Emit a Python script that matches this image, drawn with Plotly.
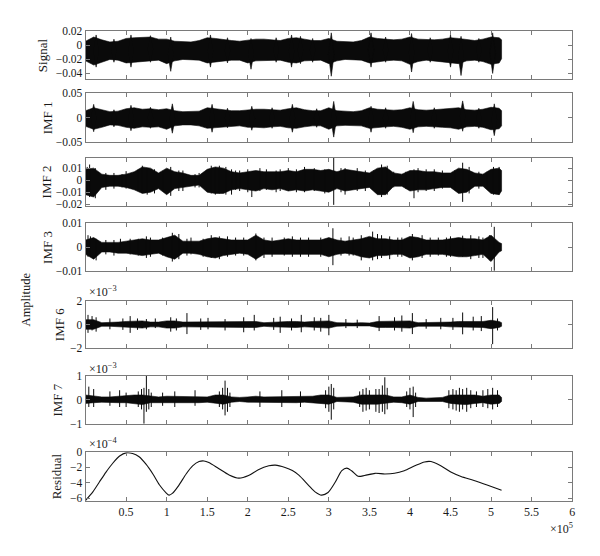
import plotly.graph_objects as go

W, H = 600, 556

# ---------------- data ----------------
# envelope sample positions, in units of 1e4 samples
GRID = [0, 1, 2, 3, 4, 5, 6, 7, 8, 9, 10, 11, 12, 13, 14, 15, 16, 17, 18, 19,
        20, 21, 22, 23, 24, 25, 26, 27, 28, 29, 30, 31, 32, 33, 34, 35, 36, 37, 38, 39,
        40, 41, 42, 43, 44, 45, 46, 47, 48, 49, 50, 51, 51.3]

# Signal envelope (x1e-3)
SIG_UP = [6, 12, 8, 5, 6, 10, 11, 11, 12, 9, 9, 6, 5, 5, 7, 11, 10, 8, 7, 6,
          8, 9, 9, 8, 7, 10, 11, 9, 7, 7, 10, 6, 5, 5, 7, 12, 10, 9, 8, 9,
          12, 9, 8, 8, 9, 11, 10, 8, 7, 9, 12, 11, 8]
SIG_LO = [-22, -28, -24, -20, -21, -25, -24, -22, -22, -21, -26, -22, -20, -20, -21, -25, -23, -22, -21, -21,
          -25, -22, -22, -21, -21, -24, -25, -22, -21, -21, -26, -22, -20, -20, -21, -25, -23, -22, -21, -22,
          -27, -23, -21, -22, -23, -25, -26, -22, -21, -23, -27, -25, -19]
SIG_SPK_X = [1.3, 5.6, 10.5, 15.4, 20.4, 25.4, 26.5, 30.3, 35.2, 40.2, 45.0, 46.3, 50.2,
             3.5, 8.0, 17.5, 23.5, 28.0, 37.0, 42.5, 48.5]
SIG_SPK_T = [15, 15, 12, 15, 10, 15, 13, 18, 18, 17, 15, 13, 18,
             9, 14, 11, 11, 10, 12, 11, 10]
SIG_SPK_B = [-31, -31, -37, -31, -34, -31, -26, -44, -31, -38, -31, -43, -40,
             -24, -24, -25, -24, -24, -24, -24, -24]

# IMF 1 envelope (x1e-3)
IMF1_UP = [14, 20, 16, 12, 13, 18, 20, 17, 18, 16, 18, 14, 12, 12, 13, 20, 18, 15, 14, 14,
           16, 17, 17, 16, 15, 18, 20, 16, 14, 14, 20, 14, 13, 12, 14, 20, 17, 16, 15, 16,
           20, 16, 15, 16, 17, 18, 20, 16, 15, 17, 21, 19, 14]
IMF1_LO = [-18, -24, -20, -15, -16, -20, -22, -19, -20, -19, -24, -17, -15, -15, -17, -22, -21, -19, -18, -17,
           -20, -20, -21, -19, -18, -21, -22, -19, -17, -17, -24, -17, -16, -16, -17, -22, -20, -19, -18, -20,
           -24, -19, -18, -19, -20, -21, -24, -19, -18, -20, -25, -23, -17]
IMF1_SPK_X = [1.0, 5.6, 10.7, 15.6, 20.5, 25.5, 30.6, 35.2, 40.4, 46.5, 50.4,
              3.5, 8.0, 17.5, 23.0, 28.5, 37.0, 43.0, 48.5]
IMF1_SPK_T = [27, 25, 28, 27, 23, 27, 33, 23, 33, 34, 28,
              16, 21, 19, 20, 18, 20, 20, 19]
IMF1_SPK_B = [-29, -27, -32, -30, -26, -30, -40, -30, -31, -28, -37,
              -19, -22, -21, -22, -20, -22, -22, -22]

# IMF 2 envelope (x1e-3)
IMF2_UP = [9, 10, 5, 4, 4, 5, 7, 11, 10, 6, 10, 7, 6, 4, 4, 9, 11, 10, 7, 6,
           7, 8, 7, 7, 7, 8, 7, 9, 9, 8, 9, 7, 9, 8, 7, 6, 10, 11, 6, 5,
           8, 8, 7, 7, 6, 6, 10, 9, 6, 5, 9, 10, 8]
IMF2_LO = [-12, -14, -6, -5, -5, -6, -8, -11, -10, -7, -12, -7, -6, -5, -4, -10, -11, -11, -8, -7,
           -8, -9, -7, -8, -7, -9, -8, -9, -8, -9, -10, -7, -9, -8, -7, -6, -12, -12, -5, -5,
           -9, -8, -8, -7, -6, -6, -11, -10, -5, -5, -11, -12, -9]
IMF2_SPK_X = [0.5, 1.2, 7.0, 10.5, 16.5, 18.0, 20.5, 30.6, 32.0, 36.5, 40.5, 46.5, 50.3,
              3.5, 5.0, 8.5, 12.0, 14.0, 17.3, 19.0, 22.3, 24.0, 26.0, 28.2, 33.5, 38.0, 42.0, 44.0, 48.5,
              0.2, 2.5, 4.5, 6.5, 7.6, 9.5, 11.5, 13.5, 15.5, 16.0, 18.5, 20.0, 21.5, 23.5, 25.0, 27.0,
              29.5, 31.5, 34.5, 35.5, 37.2, 39.5, 41.0, 43.0, 45.5, 47.3, 49.5, 51.0]
IMF2_SPK_T = [13, 10, 12, 11, 12, 9, 7, 19, 10, 13, 9, 14.5, 11,
              6, 7.5, 9, 8, 6, 11, 8, 9, 9, 9, 10, 10, 7, 9, 8, 7,
              11, 6, 5, 9, 10, 7, 8, 5, 12, 10, 8, 9, 10, 8, 10, 11,
              9, 10, 8, 8, 12, 7, 10, 9, 8, 11, 7, 11]
IMF2_SPK_B = [-14, -15, -10, -13, -11, -12, -14, -20.5, -12, -14, -15, -18, -12,
              -7, -7, -11, -9, -6, -12, -9, -8, -9, -10, -9, -9, -6, -9, -7, -7,
              -10, -8, -6, -9, -12, -8, -9, -6, -11, -12, -8, -10, -9, -10, -9, -10,
              -11, -10, -9, -7, -12, -7, -10, -9, -8, -11, -7, -12]

# IMF 3 envelope (x1e-3)
IMF3_UP = [3, 4, 2, 2, 2, 2.5, 3, 3.5, 3, 3, 4, 5, 2.5, 2.5, 2.5, 3.5, 4, 3.5, 3, 3,
           3, 5, 3, 2.5, 3, 3.5, 3, 3, 3, 3, 4, 3, 2.5, 3, 3.5, 4.5, 3.5, 3.5, 3, 3,
           4.5, 4, 3, 3, 3, 3.5, 4, 3.5, 3.5, 3, 5, 2, 1.5]
IMF3_LO = [-3, -5, -2, -2, -2.5, -2.5, -3, -3.5, -3, -2.5, -4, -5, -2.5, -2.5, -3, -4, -4.5, -3.5, -3, -2.5,
           -3, -5, -3, -3, -3, -3, -3, -3, -3, -3, -4, -3, -2.5, -3, -4, -4.5, -3.5, -3.5, -3, -3,
           -4.5, -4, -3, -3, -3, -3.5, -4, -4, -3.5, -3, -6, -2, -1.5]
IMF3_SPK_X = [0.6, 1.3, 4.3, 6.5, 10.7, 13.0, 16.5, 21.0, 30.5, 32.5, 35.4, 36.5, 40.3, 45.0, 46.5, 50.4,
              2.5, 8.0, 11.5, 14.5, 18.5, 23.0, 25.5, 27.5, 34.0, 37.5, 39.0, 42.5, 47.5, 49.0,
              0.3, 3.5, 5.5, 7.5, 9.5, 12.5, 15.5, 17.5, 19.5, 22.0, 24.5, 26.5, 29.0, 31.5, 33.0,
              36.0, 38.5, 41.5, 43.5, 44.5, 48.5, 49.8]
IMF3_SPK_T = [4.5, 3.5, 3.5, 3.5, 6, 4, 4.5, 5.7, 7.9, 4.5, 6.5, 5, 5.5, 4.5, 4.8, 8.5,
              3, 4, 5.5, 3.5, 4, 4, 4.5, 4, 5, 4.5, 4, 4, 5, 4,
              5, 3, 3.5, 4.5, 4, 3.5, 5, 4.5, 4, 4, 4, 4, 4, 4, 4,
              5.5, 4, 5, 4, 4, 4.5, 5]
IMF3_SPK_B = [-4, -5.5, -2, -3.5, -6, -3, -5, -5.5, -7.5, -3.5, -5.5, -4.5, -5.5, -4, -4, -9.8,
              -3, -4, -5, -4, -3.5, -4, -4, -4, -5.5, -5, -4, -4, -5, -4.5,
              -4, -3.5, -3, -4.5, -3.5, -3.5, -4.5, -4, -3.5, -4.5, -3.5, -4, -4, -3.5, -3.5,
              -5, -4, -4.5, -3.5, -4, -4.5, -5.5]

# IMF 6 envelope (x1e-3)
IMF6_UP = [0.4, 0.4, 0.15, 0.15, 0.2, 0.25, 0.25, 0.3, 0.2, 0.2, 0.3, 0.3, 0.2, 0.2, 0.25, 0.25, 0.2, 0.25, 0.2, 0.25,
           0.25, 0.25, 0.15, 0.2, 0.25, 0.25, 0.25, 0.2, 0.25, 0.25, 0.3, 0.15, 0.12, 0.12, 0.15, 0.12, 0.25, 0.25, 0.25, 0.25,
           0.3, 0.15, 0.15, 0.15, 0.15, 0.2, 0.25, 0.25, 0.3, 0.25, 0.35, 0.25, 0.15]
IMF6_LO = [-0.4, -0.4, -0.15, -0.15, -0.2, -0.25, -0.25, -0.3, -0.2, -0.2, -0.3, -0.3, -0.2, -0.2, -0.25, -0.25, -0.2, -0.25, -0.2, -0.25,
           -0.25, -0.25, -0.15, -0.2, -0.25, -0.25, -0.25, -0.2, -0.25, -0.25, -0.3, -0.15, -0.12, -0.12, -0.15, -0.12, -0.25, -0.25, -0.25, -0.25,
           -0.3, -0.15, -0.15, -0.15, -0.15, -0.2, -0.25, -0.25, -0.25, -0.25, -0.35, -0.25, -0.15]
IMF6_SPK_X = [0.3, 0.8, 1.3, 3.0, 4.6, 5.5, 6.4, 7.5, 8.6, 10.5, 11.2, 12.5, 14.2, 15.1, 17.2, 19.5, 20.8, 23.2, 24.0,
              25.4, 26.6, 28.2, 29.0, 30.0, 32.1, 33.5, 36.2, 38.1, 39.0, 40.3, 42.0, 43.8, 45.3, 46.5, 47.8, 48.8, 50.2, 50.8]
IMF6_SPK_T = [0.8, 0.7, 0.6, 0.5, 0.5, 0.7, 0.5, 0.45, 0.5, 0.6, 0.5, 0.95, 0.5, 0.55, 0.45, 0.6, 0.8, 0.55, 0.65,
              0.5, 0.8, 0.6, 0.55, 0.8, 0.45, 0.4, 0.7, 0.6, 0.75, 0.95, 0.45, 0.55, 0.55, 1.0, 0.65, 0.7, 1.45, 0.5]
IMF6_SPK_B = [-0.7, -0.5, -0.6, -0.4, -0.45, -0.7, -0.45, -0.4, -0.3, -0.6, -0.5, -0.8, -0.45, -0.4, -0.5, -0.65, -0.5, -0.45, -0.7,
              -0.5, -0.65, -0.5, -0.6, -0.9, -0.3, -0.3, -0.55, -0.5, -0.6, -0.8, -0.35, -0.4, -0.45, -0.82, -0.5, -0.55, -1.64, -0.5]

# IMF 7 envelope (x1e-3)
IMF7_UP = [0.2, 0.15, 0.12, 0.12, 0.15, 0.15, 0.2, 0.2, 0.15, 0.12, 0.15, 0.15, 0.12, 0.12, 0.15, 0.12, 0.2, 0.2, 0.12, 0.1,
           0.12, 0.15, 0.12, 0.12, 0.15, 0.12, 0.15, 0.12, 0.15, 0.2, 0.2, 0.1, 0.1, 0.12, 0.2, 0.2, 0.2, 0.2, 0.12, 0.12,
           0.2, 0.1, 0.07, 0.07, 0.1, 0.2, 0.2, 0.2, 0.2, 0.15, 0.2, 0.2, 0.1]
IMF7_LO = [-0.15, -0.12, -0.1, -0.1, -0.12, -0.12, -0.15, -0.2, -0.12, -0.1, -0.12, -0.12, -0.1, -0.12, -0.12, -0.1, -0.15, -0.18, -0.1, -0.07,
           -0.1, -0.12, -0.1, -0.1, -0.12, -0.12, -0.12, -0.1, -0.12, -0.15, -0.18, -0.07, -0.07, -0.1, -0.18, -0.18, -0.18, -0.15, -0.1, -0.12,
           -0.18, -0.07, -0.07, -0.07, -0.07, -0.15, -0.18, -0.2, -0.15, -0.12, -0.18, -0.15, -0.07]
IMF7_SPK_X = [0.4, 1.0, 3.0, 4.2, 5.0, 6.5, 6.9, 7.2, 7.5, 7.8, 8.1, 9.5, 11.0, 13.5, 16.5, 16.9, 17.2, 17.5, 17.8,
              21.5, 24.2, 26.5, 29.6, 30.0, 30.3, 30.6, 33.8, 34.2, 34.6, 35.0, 35.8, 36.2, 36.6, 36.9, 37.2,
              39.6, 40.0, 40.4, 40.7, 44.8, 45.3, 45.7, 46.1, 46.5, 47.0, 47.5, 48.2, 49.0, 49.6, 50.2, 50.8]
IMF7_SPK_T = [0.55, 0.45, 0.35, 0.4, 0.3, 0.35, 0.45, 0.5, 1.0, 0.45, 0.3, 0.3, 0.35, 0.4, 0.35, 0.5, 0.8, 0.5, 0.3,
              0.35, 0.4, 0.35, 0.4, 0.55, 0.66, 0.5, 0.35, 0.45, 0.5, 0.4, 0.45, 0.45, 0.6, 0.94, 0.5,
              0.35, 0.5, 0.55, 0.3, 0.4, 0.45, 0.4, 0.5, 0.45, 0.5, 0.4, 0.35, 0.4, 0.45, 0.5, 0.4]
IMF7_SPK_B = [-0.3, -0.3, -0.25, -0.3, -0.3, -0.3, -0.4, -1.0, -0.5, -0.4, -0.3, -0.25, -0.3, -0.25, -0.3, -0.4, -0.65, -0.5, -0.3,
              -0.3, -0.3, -0.3, -0.35, -0.5, -0.83, -0.4, -0.3, -0.5, -0.45, -0.4, -0.5, -0.55, -0.5, -0.6, -0.4,
              -0.3, -0.4, -0.72, -0.3, -0.35, -0.4, -0.45, -0.5, -0.4, -0.5, -0.35, -0.3, -0.3, -0.35, -0.4, -0.3]

# Residual (x in 1e5 samples, value in 1e-4)
RES_X = [0.0, 0.09, 0.17, 0.25, 0.335, 0.42, 0.5, 0.58, 0.66, 0.745, 0.83, 0.91, 0.99, 1.03, 1.07, 1.15, 1.24,
         1.32, 1.40, 1.46, 1.52, 1.64, 1.77, 1.89, 2.01, 2.13, 2.26, 2.34, 2.46, 2.55, 2.63, 2.75, 2.83, 2.91,
         2.99, 3.08, 3.16, 3.22, 3.28, 3.36, 3.44, 3.57, 3.69, 3.81, 3.93, 4.06, 4.18, 4.26, 4.38, 4.51, 4.63,
         4.79, 4.96, 5.13]
RES_Y = [-6.3, -5.19, -3.91, -2.64, -1.45, -0.51, -0.09, -0.17, -0.6, -1.57, -2.85, -4.26, -5.28, -5.62, -5.4, -4.34, -2.85,
         -1.79, -1.23, -1.15, -1.36, -2.13, -2.98, -3.4, -3.06, -2.3, -1.79, -1.7, -2.0, -2.4, -3.0, -4.34, -5.19, -5.62,
         -5.28, -3.91, -2.43, -2.09, -2.43, -3.15, -3.06, -2.77, -2.85, -2.77, -2.43, -1.79, -1.28, -1.23, -1.79, -2.64, -3.19,
         -3.7, -4.34, -4.98]

PANEL_NAMES = ["Signal", "IMF 1", "IMF 2", "IMF 3", "IMF 6", "IMF 7", "Residual"]
X_TICKS = [0.5, 1, 1.5, 2, 2.5, 3, 3.5, 4, 4.5, 5, 5.5, 6]          # x1e5
X_TICK_TEXT = ["0.5", "1", "1.5", "2", "2.5", "3", "3.5", "4", "4.5", "5", "5.5", "6"]

Y_TICKS = [[0.02, 0, -0.02, -0.04], [0.05, 0, -0.05], [0.01, 0, -0.01, -0.02], [0.01, 0, -0.01],
           [2e-3, 0, -2e-3], [1e-3, 0, -1e-3], [0, -2e-4, -4e-4, -6e-4]]
Y_TICK_TEXT = [["0.02", "0", "−0.02", "−0.04"], ["0.05", "0", "−0.05"], ["0.01", "0", "−0.01", "−0.02"],
               ["0.01", "0", "−0.01"], ["2", "0", "−2"], ["1", "0", "−1"], ["0", "−2", "−4", "−6"]]

# ---------------- layout helpers (pixels -> paper) ----------------
X0, X1 = 86, 575
PANEL_PX = [(26, 75), (89, 139), (155, 204), (222, 271), (301, 350), (378, 427), (456, 506)]
Y_RANGES = [[-0.0485, 0.02], [-0.05, 0.05], [-0.0211, 0.0187], [-0.01, 0.01],
            [-2e-3, 2e-3], [-1e-3, 1e-3], [-6.4e-4, 0]]
LABEL_X = [43, 48, 47, 47, 60, 58, 57]

FONT = "Liberation Serif"
FRAME = "#7a7a7a"
INK = "#1a1a1a"
FILL = "#0a0a0a"


def px_x(p):
    return p / W


def px_y(p):
    return 1 - p / H


# (upper, lower, spike x, spike top, spike bottom, spike style, spike half-width in samples)
env_sets = [
    (SIG_UP, SIG_LO, SIG_SPK_X, SIG_SPK_T, SIG_SPK_B, "wedge", 3500),
    (IMF1_UP, IMF1_LO, IMF1_SPK_X, IMF1_SPK_T, IMF1_SPK_B, "wedge", 3500),
    (IMF2_UP, IMF2_LO, IMF2_SPK_X, IMF2_SPK_T, IMF2_SPK_B, "line", 0),
    (IMF3_UP, IMF3_LO, IMF3_SPK_X, IMF3_SPK_T, IMF3_SPK_B, "line", 0),
    (IMF6_UP, IMF6_LO, IMF6_SPK_X, IMF6_SPK_T, IMF6_SPK_B, "line", 0),
    (IMF7_UP, IMF7_LO, IMF7_SPK_X, IMF7_SPK_T, IMF7_SPK_B, "line", 0),
]

fig = go.Figure()
for i, (up, lo, sx, st, sb, style, hw) in enumerate(env_sets):
    k = i + 1
    xs = [g * 1e4 for g in GRID]
    poly_x = xs + xs[::-1]
    poly_y = [v * 1e-3 for v in up] + [v * 1e-3 for v in lo][::-1]
    fig.add_trace(go.Scatter(x=poly_x, y=poly_y, mode="lines", fill="toself",
                             fillcolor=FILL, line=dict(color=FILL, width=0.6),
                             xaxis=f"x{k}", yaxis=f"y{k}", showlegend=False, hoverinfo="skip"))
    spx, spy = [], []
    if style == "wedge":
        # each spike drawn as a narrow diamond whose tips are the read extremes
        for a, t, b in zip(sx, st, sb):
            c = a * 1e4
            m = (t + b) / 2 * 1e-3
            spx += [c - hw, c, c + hw, c, c - hw, None]
            spy += [m, t * 1e-3, m, b * 1e-3, m, None]
        fig.add_trace(go.Scatter(x=spx, y=spy, mode="lines", fill="toself", fillcolor=FILL,
                                 line=dict(color=FILL, width=0.6),
                                 xaxis=f"x{k}", yaxis=f"y{k}", showlegend=False, hoverinfo="skip"))
    else:
        for a, t, b in zip(sx, st, sb):
            spx += [a * 1e4, a * 1e4, None]
            spy += [t * 1e-3, b * 1e-3, None]
        fig.add_trace(go.Scatter(x=spx, y=spy, mode="lines", line=dict(color=FILL, width=1.0),
                                 xaxis=f"x{k}", yaxis=f"y{k}", showlegend=False, hoverinfo="skip"))

fig.add_trace(go.Scatter(x=[v * 1e5 for v in RES_X], y=[v * 1e-4 for v in RES_Y], mode="lines",
                         line=dict(color="#111111", width=1.1, shape="spline", smoothing=0.8),
                         xaxis="x7", yaxis="y7", showlegend=False, hoverinfo="skip"))

layout = dict(width=W, height=H, margin=dict(l=0, r=0, t=0, b=0),
              paper_bgcolor="white", plot_bgcolor="white",
              font=dict(family=FONT, size=12, color=INK), showlegend=False)

for i in range(7):
    k = i + 1
    top, bot = PANEL_PX[i]
    xa = dict(domain=[px_x(X0), px_x(X1)], range=[0, 6e5], anchor=f"y{k}",
              tickvals=[t * 1e5 for t in X_TICKS], ticktext=X_TICK_TEXT,
              showticklabels=(k == 7), ticks="inside", ticklen=4, tickcolor=FRAME,
              showline=True, linecolor=FRAME, linewidth=1, mirror="ticks",
              showgrid=False, zeroline=False, tickfont=dict(family=FONT, size=12, color=INK))
    if k > 1:
        xa["matches"] = "x"
    ya = dict(domain=[px_y(bot), px_y(top)], range=Y_RANGES[i], anchor=f"x{k}",
              tickvals=Y_TICKS[i], ticktext=Y_TICK_TEXT[i],
              ticks="inside", ticklen=4, tickcolor=FRAME,
              showline=True, linecolor=FRAME, linewidth=1, mirror="ticks",
              showgrid=False, zeroline=False, tickfont=dict(family=FONT, size=11.5, color=INK))
    layout["xaxis" if k == 1 else f"xaxis{k}"] = xa
    layout["yaxis" if k == 1 else f"yaxis{k}"] = ya

ann = []
for i, name in enumerate(PANEL_NAMES):
    top, bot = PANEL_PX[i]
    ann.append(dict(text=name, x=px_x(LABEL_X[i]), y=px_y((top + bot) / 2), xref="paper", yref="paper",
                    textangle=-90, showarrow=False, xanchor="center", yanchor="middle",
                    font=dict(family=FONT, size=13, color=INK)))
ann.append(dict(text="Amplitude", x=px_x(26), y=px_y(300), xref="paper", yref="paper", textangle=-90,
                showarrow=False, xanchor="center", yanchor="middle", font=dict(family=FONT, size=12.5, color=INK)))
for txt, ypx in [("×10<sup>−3</sup>", 292), ("×10<sup>−3</sup>", 371), ("×10<sup>−4</sup>", 447)]:
    ann.append(dict(text=txt, x=px_x(87), y=px_y(ypx), xref="paper", yref="paper", showarrow=False,
                    xanchor="left", yanchor="middle", font=dict(family=FONT, size=12, color=INK)))
ann.append(dict(text="×10<sup>5</sup>", x=px_x(578), y=px_y(534), xref="paper", yref="paper", showarrow=False,
                xanchor="right", yanchor="middle", font=dict(family=FONT, size=12, color=INK)))
layout["annotations"] = ann

fig.update_layout(**layout)
fig.write_html("out.html", config={"displayModeBar": False},
               post_script="document.body.style.margin='0';document.body.style.padding='0';")
